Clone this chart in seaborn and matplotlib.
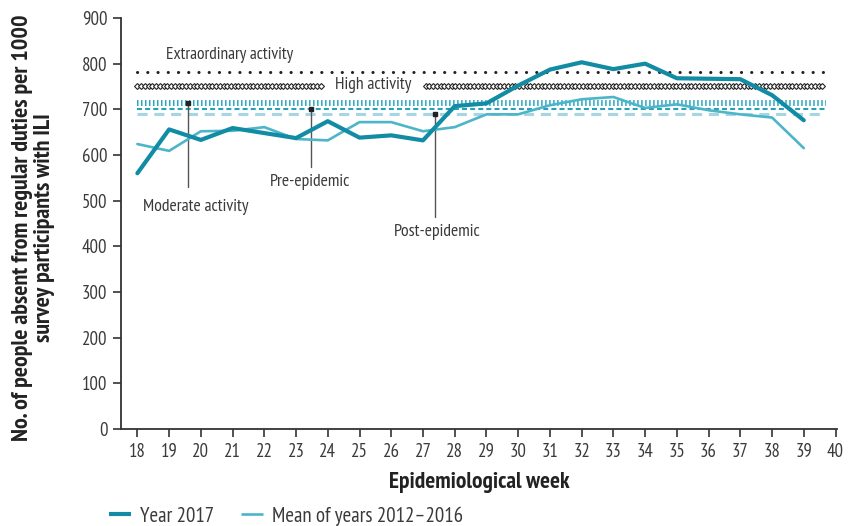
import numpy as np
import pandas as pd
import matplotlib
matplotlib.use("Agg")
import matplotlib.pyplot as plt
from matplotlib.lines import Line2D
from matplotlib import font_manager as fm
import seaborn as sns

weeks = list(range(18, 40))
year_2017 = [560, 656, 633, 659, 648, 637, 674, 638, 643, 632, 707, 713,
             752, 787, 803, 788, 800, 768, 767, 766, 731, 676]
mean_2012_2016 = [624, 609, 652, 653, 661, 635, 632, 672, 672, 652, 661, 689,
                  689, 709, 722, 727, 703, 711, 698, 689, 682, 615]
series_names = ["Year 2017", "Mean of years 2012\u20132016"]

thresholds = {"Extraordinary activity": 782, "High activity": 750,
              "Moderate activity": 713, "Pre-epidemic": 700, "Post-epidemic": 690}
xticks = list(range(18, 41))
yticks = list(range(0, 901, 100))

c2017 = "#118ca4"
cmean = "#4db5c9"
c_mod = "#2aa7be"
c_pre = "#2a9fb8"
c_post = "#a6d6e3"
txt = "#3a3a3a"

sns.set_style("ticks")
installed = {f.name for f in fm.fontManager.ttflist}
prefs = ["PT Sans Narrow", "Fira Sans Condensed", "Roboto Condensed",
         "IBM Plex Sans Condensed", "Liberation Sans Narrow"]
fam = [p for p in prefs if p in installed][:1] + ["DejaVu Sans"]
plt.rcParams["font.family"] = fam

df = pd.DataFrame({
    "week": weeks * 2,
    "value": year_2017 + mean_2012_2016,
    "series": [series_names[0]] * len(weeks) + [series_names[1]] * len(weeks),
})

fig = plt.figure(figsize=(8.49, 5.26), dpi=100)
ax = fig.add_axes([0.142, 0.1844, 0.844, 0.7814])

# threshold lines
x0, x1 = 18, 39.7
lc = ax.hlines(thresholds["Extraordinary activity"], x0, x1, color="#222222", lw=2.2,
               linestyles=(0, (0.05, 3.3)))
lc.set_capstyle("round")
for a, b in [(x0, 23.82), (27.08, x1)]:
    xs = np.arange(a, b, 0.118)
    ax.plot(xs, np.full(len(xs), thresholds["High activity"]), ls="none", marker="D",
            ms=3.0, mfc="white", mec="#222222", mew=0.8)
ax.hlines(thresholds["Moderate activity"], x0, x1, color=c_mod, lw=4.3,
          linestyles=(0, (0.25, 0.42)))
ax.hlines(thresholds["Pre-epidemic"], x0, x1, color=c_pre, lw=1.5,
          linestyles=(0, (2.4, 1.5)))
ax.hlines(thresholds["Post-epidemic"], x0, x1, color=c_post, lw=2.2,
          linestyles=(0, (3.3, 2.2)))

# data lines
sns.lineplot(data=df, x="week", y="value", hue="series", ax=ax,
             palette={series_names[0]: c2017, series_names[1]: cmean},
             legend=False)
ax.lines[-2].set_linewidth(3.0)
ax.lines[-1].set_linewidth(1.9)
ax.lines[-2].set_zorder(4)
ax.lines[-1].set_zorder(3)

# annotations
ann = [("Moderate activity", 19.58, 530, 19.83, 486),
       ("Pre-epidemic", 23.48, 573, 23.43, 540),
       ("Post-epidemic", 27.39, 464, 27.45, 431)]
for name, xl, yb, xt, yt in ann:
    yt0 = thresholds[name]
    ax.plot([xl, xl], [yt0, yb], color="#555555", lw=1.0, zorder=2)
    ax.plot([xl], [yt0], marker="s", ms=2.5, color="#222222", zorder=5)
    ax.text(xt, yt, name, ha="center", va="center", fontsize=12.7, color=txt)
ax.text(20.9, 818, "Extraordinary activity", ha="center", va="center", fontsize=12.5, color=txt)
ax.text(25.44, 753, "High activity", ha="center", va="center", fontsize=12.7, color=txt,
        zorder=6)

ax.set_xlim(17.47, 40.05)
ax.set_ylim(0, 900)
ax.set_xticks(xticks)
ax.set_yticks(yticks)
ax.tick_params(axis="both", labelsize=13.5, colors="#333333", length=6, width=1.2,
               labelcolor=txt)
ax.tick_params(axis="x", pad=4)
for s in ["top", "right"]:
    ax.spines[s].set_visible(False)
for s in ["left", "bottom"]:
    ax.spines[s].set_color("#333333")
    ax.spines[s].set_linewidth(1.3)

ax.set_xlabel("Epidemiological week", fontsize=16.8, fontweight="bold", color="#222222",
              labelpad=8)
ax.set_ylabel("No. of people absent from regular duties per 1000\nsurvey participants with ILI",
              fontsize=17.3, fontweight="bold", color="#222222",
              linespacing=1.05)
ax.yaxis.set_label_coords(-0.092, 0.49)

handles = [Line2D([], [], color=c2017, lw=3.0, solid_capstyle="butt"),
           Line2D([], [], color=cmean, lw=1.9, solid_capstyle="butt")]
fig.legend(handles, series_names, loc="lower left", bbox_to_anchor=(0.106, -0.035),
           ncol=2, frameon=False, fontsize=15.0, handlelength=1.05, handletextpad=0.45,
           columnspacing=1.3, labelcolor=txt)

fig.savefig("out.png", dpi=100)
